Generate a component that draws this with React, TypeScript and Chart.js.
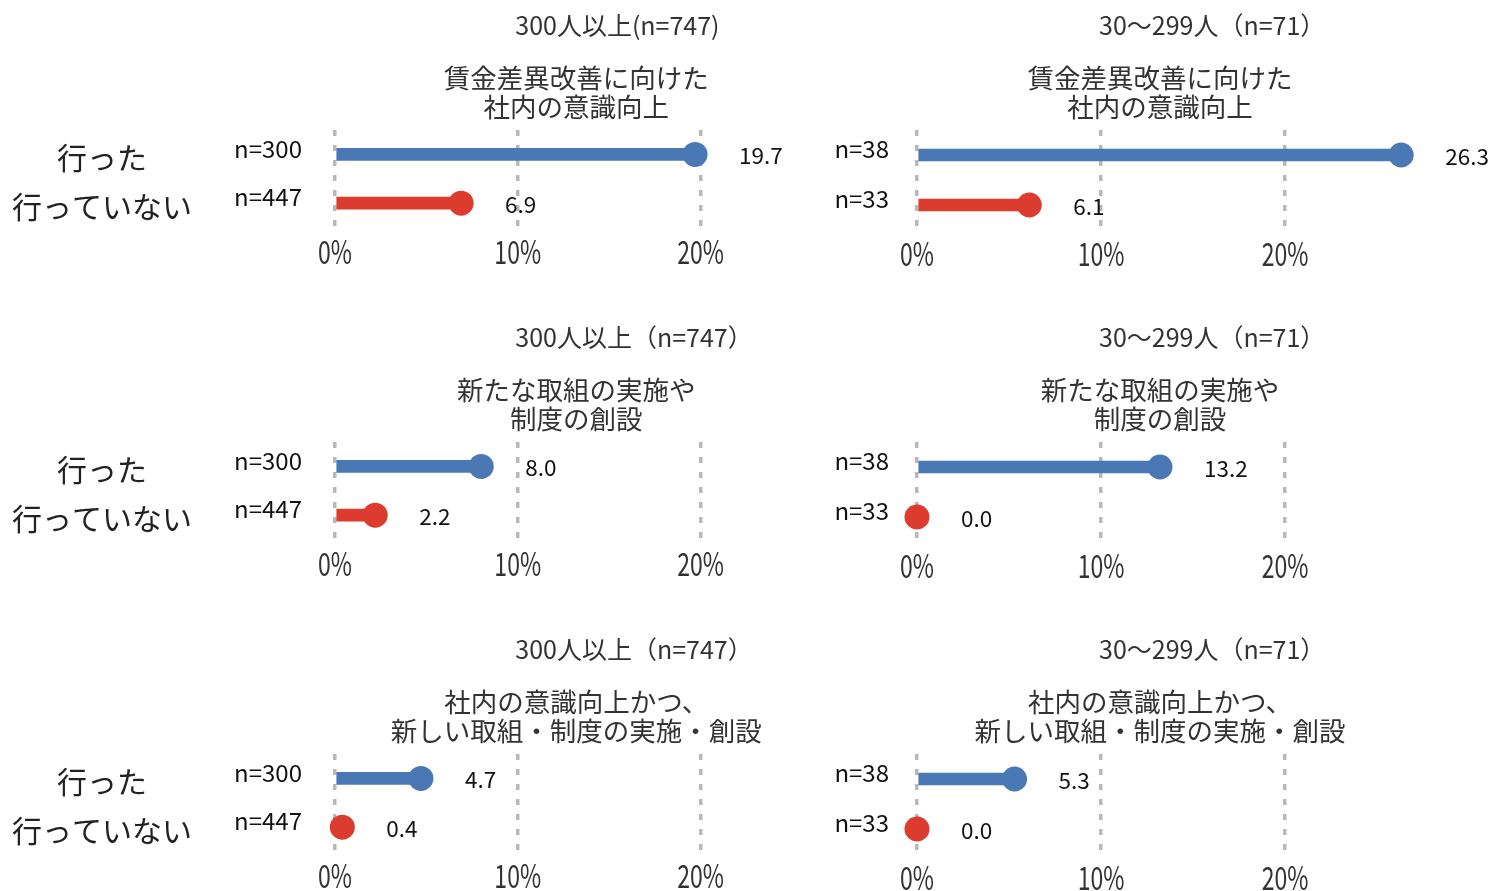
import React, { useEffect, useRef } from "react";
import { Chart, registerables } from "chart.js";

Chart.register(...registerables);

const rowLabels = ["行った", "行っていない"];
const leftCategories = ["n=300", "n=447"];
const rightCategories = ["n=38", "n=33"];
const leftTitles = ["300人以上(n=747)", "300人以上（n=747）", "300人以上（n=747）"];
const rightTitles = ["30～299人（n=71）", "30～299人（n=71）", "30～299人（n=71）"];
const subtitles = [
  ["賃金差異改善に向けた", "社内の意識向上"],
  ["新たな取組の実施や", "制度の創設"],
  ["社内の意識向上かつ、", "新しい取組・制度の実施・創設"],
];
const leftValues = [
  [19.7, 6.9],
  [8.0, 2.2],
  [4.7, 0.4],
];
const rightValues = [
  [26.3, 6.1],
  [13.2, 0.0],
  [5.3, 0.0],
];
const xTicks = [0, 10, 20];

const BLUE = "#4a78b5";
const RED = "#dc3c2d";
const FONT = "'Noto Sans CJK JP', 'Noto Sans', sans-serif";

type PanelProps = {
  left: number;
  top: number;
  width: number;
  yWidth: number;
  padRight: number;
  categories: string[];
  values: number[];
  title: string;
  subtitle: string[];
  showRowLabels: boolean;
  tickPad: number;
};

function Panel(p: PanelProps) {
  const ref = useRef<HTMLCanvasElement | null>(null);
  useEffect(() => {
    if (!ref.current) return;
    const textPlugin = {
      id: "panelText",
      afterDatasetsDraw(chart: any) {
        const { ctx, chartArea, scales } = chart;
        const cx = (chartArea.left + chartArea.right) / 2;
        ctx.save();
        ctx.textBaseline = "middle";
        ctx.textAlign = "left";
        ctx.fillStyle = "#333";
        ctx.font = `25px ${FONT}`;
        ctx.fillText(p.title, cx - 61, 25);
        ctx.textAlign = "center";
        ctx.font = `26.5px ${FONT}`;
        ctx.fillText(p.subtitle[0], cx, 78);
        ctx.fillText(p.subtitle[1], cx, 107);
        // value labels
        ctx.textAlign = "left";
        ctx.fillStyle = "#111";
        ctx.font = `22.5px ${FONT}`;
        p.values.forEach((v, i) => {
          const x = scales.x.getPixelForValue(v);
          const y = scales.y.getPixelForValue(i);
          ctx.fillText(v.toFixed(1), x + 44, y + 1);
        });
        // x tick labels (condensed)
        ctx.textAlign = "center";
        ctx.fillStyle = "#333";
        ctx.font = `32px ${FONT}`;
        scales.x.ticks.forEach((t: any) => {
          const x = scales.x.getPixelForValue(t.value);
          ctx.save();
          ctx.translate(x, chartArea.bottom + 24);
          ctx.scale(0.72, 1);
          ctx.fillText(`${t.value}%`, 0, 0);
          ctx.restore();
        });
        if (p.showRowLabels) {
          ctx.textAlign = "center";
          ctx.fillStyle = "#222";
          ctx.font = `30px ${FONT}`;
          rowLabels.forEach((t, i) => {
            const y = scales.y.getPixelForValue(i);
            ctx.fillText(t, 102, y + 3);
          });
        }
        ctx.restore();
      },
    };
    const chart = new Chart(ref.current, {
      type: "bar",
      data: {
        labels: p.categories,
        datasets: [
          {
            type: "line",
            data: p.values,
            showLine: false,
            pointRadius: 12.5,
            pointHoverRadius: 12.5,
            pointBorderWidth: 0,
            pointBackgroundColor: [BLUE, RED],
            pointBorderColor: [BLUE, RED],
            order: 0,
            clip: false,
          } as any,
          {
            type: "bar",
            data: p.values,
            backgroundColor: [BLUE, RED],
            barThickness: 12,
            order: 1,
          },
        ],
      },
      options: {
        indexAxis: "y",
        animation: false,
        responsive: false,
        maintainAspectRatio: false,
        layout: { padding: { top: 130, right: p.padRight, left: 0, bottom: 0 } },
        plugins: { legend: { display: false }, tooltip: { enabled: false } },
        scales: {
          x: {
            min: 0,
            max: 26.4,
            afterBuildTicks: (s: any) => {
              s.ticks = xTicks.map((v) => ({ value: v }));
            },
            afterFit: (s: any) => {
              s.height = 45;
            },
            grid: { display: true, color: "#b8b8b8", lineWidth: 3.5, drawTicks: false },
            border: { display: false, dash: [6, 9] },
            ticks: { display: false },
          },
          y: {
            afterFit: (s: any) => {
              s.width = p.yWidth;
            },
            grid: { display: false, drawTicks: false },
            border: { display: false },
            ticks: {
              padding: p.tickPad,
              labelOffset: -6,
              color: "#111",
              font: { family: FONT, size: 24 },
            },
          },
        },
      },
      plugins: [textPlugin],
    } as any);
    return () => chart.destroy();
  }, []);
  return (
    <canvas
      ref={ref}
      width={p.width}
      height={275}
      style={{ position: "absolute", left: p.left, top: p.top, width: p.width, height: 275 }}
    />
  );
}

export default function App() {
  const rows = [0, 1, 2];
  return (
    <div
      style={{
        position: "absolute",
        left: 0,
        top: 0,
        width: 1492,
        height: 891,
        overflow: "hidden",
        background: "#fff",
      }}
    >
      {rows.map((r) => (
        <React.Fragment key={r}>
          <Panel
            left={0}
            top={r * 312}
            width={830}
            yWidth={335}
            padRight={9}
            categories={leftCategories}
            values={leftValues[r]}
            title={leftTitles[r]}
            subtitle={subtitles[r]}
            showRowLabels={true}
            tickPad={33}
          />
          <Panel
            left={830}
            top={r * 312}
            width={662}
            yWidth={87}
            padRight={89}
            categories={rightCategories}
            values={rightValues[r]}
            title={rightTitles[r]}
            subtitle={subtitles[r]}
            showRowLabels={false}
            tickPad={28}
          />
        </React.Fragment>
      ))}
    </div>
  );
}
